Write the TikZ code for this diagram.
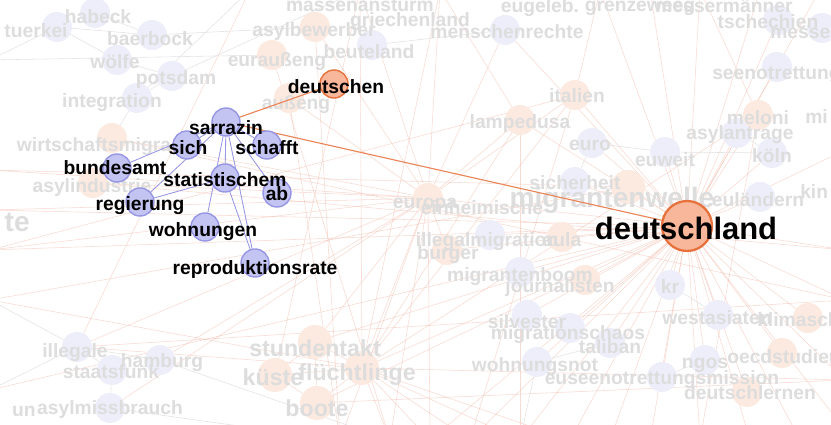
\documentclass[tikz,border=0pt]{standalone}
\usepackage{fontspec}
\setmainfont{Liberation Sans}
\pgfdeclarelayer{edges}
\pgfdeclarelayer{faint}
\pgfdeclarelayer{fainttext}
\pgfdeclarelayer{front}
\pgfdeclarelayer{top}
\pgfsetlayers{edges,faint,fainttext,main,front,top}
\definecolor{hubblue}{RGB}{196,196,242}
\definecolor{hubline}{RGB}{150,150,228}
\definecolor{huborange}{RGB}{248,182,154}
\definecolor{hotline}{RGB}{232,112,58}
\definecolor{fadeblue}{RGB}{238,238,250}
\definecolor{fadeorange}{RGB}{252,234,224}
\definecolor{fadetext}{RGB}{221,221,221}
\definecolor{fadeedge}{RGB}{242,184,166}
\tikzset{
  word/.style={inner sep=0pt, font=\bfseries\fontsize{13.7}{15}\selectfont},
  fadeword/.style={word, text=fadetext},
  bigword/.style={inner sep=0pt, text=fadetext, font=\bfseries\fontsize{16.5}{18}\selectfont},
  hubdot/.style={circle, inner sep=0pt, minimum size=0.7cm, fill=hubblue, draw=hubline, line width=1pt},
  hotdot/.style={hubdot, fill=huborange, draw=hotline},
  fadedot/.style={circle, inner sep=0pt, minimum size=0.75cm},
  bigdot/.style={circle, inner sep=0pt, minimum size=0.85cm, fill=fadeorange},
  fadeline/.style={draw=fadeedge, line width=0.4pt, opacity=0.5},
  greyline/.style={draw=black!11, line width=0.4pt},
  hubedge/.style={draw=hubline, line width=0.6pt},
  hotedge/.style={draw=hotline!85, line width=0.8pt}
}
\begin{document}
\begin{tikzpicture}[x=0.025cm,y=-0.025cm]
  \useasboundingbox (0,0) rectangle (831,425);
  \begin{pgfonlayer}{edges}
    \fill[white] (0,0) rectangle (831,425);
  \end{pgfonlayer}

  \begin{pgfonlayer}{front}
    \foreach \n/\cx/\cy in {sarrazin/226/122, sich/187/145, schafft/267/145, bundesamt/117/168,
      statistischem/225/178, ab/277/193, regierung/140/202, wohnungen/205/227, reproduktionsrate/255/263}
      \node[hubdot] (\n) at (\cx,\cy) {};
    \node[hotdot] (deutschen) at (334,84) {};
    \node[hotdot, minimum size=1.25cm, line width=1.6pt] (deutschland) at (687,226) {};
  \end{pgfonlayer}
  \begin{pgfonlayer}{top}
    \foreach \n/\lx/\ly in {sarrazin/226/128, sich/188/148, schafft/267/148, bundesamt/115/168,
      statistischem/225/180, ab/277/194, regierung/140/206, wohnungen/203/232, reproduktionsrate/255/270}
      \node[word] (\n-t) at (\lx,\ly) {\n};
    \node[word] (deutschen-t) at (336,87) {deutschen};
    \node[word, font=\bfseries\fontsize{22}{24}\selectfont] (deutschland-t) at (686,228) {deutschland};
  \end{pgfonlayer}

  \foreach \n/\cx/\cy/\c/\lx/\ly/\t in {
    tuerkei/57/27/fadeblue/36/31/tuerkei, habeck/95/13/fadeblue/98/17/habeck,
    baerbock/152/35/fadeblue/150/39/baerbock, woelfe/117/60/fadeblue/115/62/wölfe,
    potsdam/172/76/fadeblue/176/80/potsdam, integration/137/98/fadeblue/112/103/integration,
    wirtschaft/112/138/fadeorange/94/147/wirtschaftsmigra, asylindustrie/93/183/fadeorange/92/188/asylindustrie,
    asylbewerber/315/27/fadeorange/314/32/asylbewerber, beuteland/372/45/fadeblue/369/52/beuteland,
    euraussen/272/55/fadeorange/277/62/euraußeng, aussen/289/98/fadeorange/296/105/außeng,
    menschenrechte/505/30/fadeblue/507/32/menschenrechte, italien/575/95/fadeorange/577/96/italien,
    lampedusa/520/120/fadeorange/520/124/lampedusa, euro/592/143/fadeblue/590/145/euro,
    euweit/665/152/fadeblue/665/160/euweit, asylantrage/737/133/fadeblue/740/135/asylantrage,
    meloni/758/115/fadeorange/758/118/meloni, koeln/772/153/fadeblue/772/156/köln,
    tschechien/778/20/fadeblue/768/22/tschechien, sicherheit/575/182/fadeblue/575/183/sicherheit,
    europa/428/198/fadeorange/425/205/europa, eulaendern/760/197/fadeblue/758/200/euländern,
    illegalmigration/490/235/fadeblue/487/242/illegalmigration, burger/447/250/fadeorange/448/255/burger,
    aula/562/237/fadeorange/562/240/aula, migrantenboom/520/272/fadeblue/520/277/migrantenboom,
    journalisten/585/280/fadeorange/560/288/journalisten, kr/670/285/fadeblue/670/287/kr,
    silvester/527/315/fadeblue/527/322/silvester, migrationschaos/570/328/fadeblue/568/335/migrationschaos,
    taliban/610/343/fadeblue/610/347/taliban, wohnungsnot/537/362/fadeblue/535/367/wohnungsnot,
    euseenot/662/377/fadeblue/662/380/euseenotrettungsmission, ngos/705/360/fadeblue/705/365/ngos,
    westasiaten/718/315/fadeblue/717/318/westasiaten, deutschlernen/747/392/fadeorange/750/393/deutschlernen,
    illegale/77/347/fadeblue/75/353/illegale, staatsfunk/112/370/fadeblue/111/372/staatsfunk,
    hamburg/160/360/fadeblue/162/363/hamburg, asylmissbrauch/110/408/fadeblue/110/410/asylmissbrauch}
  {
    \begin{pgfonlayer}{faint}
      \node[fadedot, fill=\c] (\n) at (\cx,\cy) {};
    \end{pgfonlayer}
    \begin{pgfonlayer}{fainttext}
      \node[fadeword] (\n-t) at (\lx,\ly) {\t};
    \end{pgfonlayer}
  }

  \begin{pgfonlayer}{faint}
    \node[fadedot, fill=fadeblue] (seenotrettung) at (777,67) {};
    \node[fadedot, fill=fadeorange] (oecdstudie) at (782,353) {};
    \node[fadedot, fill=fadeorange] (klimaschutz) at (808,318) {};
    \node[fadedot, fill=fadeblue] (messer) at (822,28) {};
    \node[bigdot] (stundentakt) at (315,342) {};
    \node[bigdot] (kueste) at (275,375) {};
    \node[bigdot] (fluechtlinge) at (362,368) {};
    \node[bigdot] (boote) at (317,403) {};
    \node[bigdot] (welle) at (628,187) {};
  \end{pgfonlayer}
  \begin{pgfonlayer}{fainttext}
    \node[fadeword, anchor=west] (seenotrettung-t) at (712,75) {seenotrettung};
    \node[fadeword, anchor=west] (oecdstudie-t) at (727,357) {oecdstudien};
    \node[fadeword, anchor=west] (klimaschutz-t) at (757,320) {klimaschutz};
    \node[fadeword, anchor=west] (messer-t) at (770,33) {messer};
    \node[fadeword, anchor=west] (mi-t) at (805,117) {mi};
    \node[fadeword, anchor=west] (kin-t) at (800,192) {kin};
    \node[fadeword] (massen-t) at (360,5) {massenansturm};
    \node[fadeword] (eugeleb-t) at (540,8) {eugeleb.};
    \node[fadeword] (grenze-t) at (640,8) {grenzeweeg};
    \node[fadeword] (messermaenner-t) at (724,6) {messermänner};
    \node[fadeword] (griechenland-t) at (410,22) {griechenland};
    \node[fadeword] (einheimische-t) at (482,208) {einheimische};
    \node[fadeword, anchor=east] (un-t) at (36,411) {un};
    \node[bigword, anchor=east, font=\bfseries\fontsize{20}{22}\selectfont] (te-t) at (30,222) {te};
    \node[bigword] (stundentakt-t) at (315,348) {stundentakt};
    \node[bigword] (kueste-t) at (273,377) {küste};
    \node[bigword] (fluechtlinge-t) at (357,375) {flüchtlinge};
    \node[bigword] (boote-t) at (317,408) {boote};
    \node[bigword, font=\bfseries\fontsize{20}{22}\selectfont] (welle-t) at (612,200) {migrantenwelle};
  \end{pgfonlayer}

  \foreach \n/\x/\y in {s1/340/440, s2/390/440, s3/430/440, s4/470/440, s5/520/440, s6/570/440,
    s7/610/440, s8/650/440, s9/700/440, s10/750/440, s11/800/440, s12/845/430, r1/845/380,
    r2/845/300, r3/845/250, r4/845/150, n1/600/-10, n2/650/-10, n3/700/-10, n4/760/-10,
    n5/820/-10, n6/440/-10, n7/360/-10, n8/250/-10, w1/-10/170, w2/-10/210, w3/-10/250,
    w4/-10/300, w5/-10/390, w6/-10/60}
    \coordinate (\n) at (\x,\y);

  \begin{pgfonlayer}{edges}
    \foreach \b in {europa, sicherheit, aula, kr, westasiaten, klimaschutz, ngos, oecdstudie, euseenot,
      deutschlernen, fluechtlinge, boote, stundentakt, migrationschaos, taliban, wohnungsnot, silvester,
      migrantenboom, euweit, koeln, meloni, asylantrage, seenotrettung, italien, lampedusa, euro,
      tschechien, menschenrechte, eulaendern, illegalmigration, burger, journalisten, welle, w2, w3,
      s3, s4, s5, s6, s7, s8, s9, s10, s11, s12, r1, r2, r3, r4, n1, n2, n3, n4, n5}
      \draw[fadeline] (deutschland) -- (\b);
    \foreach \b in {lampedusa, italien, burger, illegale, asylindustrie, stundentakt, fluechtlinge,
      asylbewerber, aussen, wirtschaft, menschenrechte, s1, s2, s3, w1, w2, w3, n6, n7}
      \draw[fadeline] (europa) -- (\b);
    \foreach \b in {s2, s3, s4, s5, s6, italien, lampedusa, kueste, boote, stundentakt, meloni,
      n6, n7, r1, illegale, w4}
      \draw[fadeline] (fluechtlinge) -- (\b);
    \draw[fadeline] (stundentakt) -- (kueste) -- (boote);
    \draw[fadeline] (stundentakt) -- (boote);
    \foreach \a/\b in {lampedusa/n6, italien/n1, italien/s4, lampedusa/s5, meloni/s9, meloni/n3,
      asylbewerber/s1, euraussen/s2, aussen/s1, wirtschaft/r2, asylindustrie/r3, illegale/r2,
      illegale/n8, w5/deutschland, w4/welle, w1/welle, asylmissbrauch/europa, hamburg/europa,
      boote/r1, kueste/n7, w3/italien}
      \draw[fadeline] (\a) -- (\b);
    \foreach \a/\b in {habeck/baerbock, tuerkei/baerbock, tuerkei/woelfe, woelfe/potsdam,
      potsdam/integration, integration/wirtschaft, baerbock/asylbewerber, illegale/hamburg,
      illegale/staatsfunk, staatsfunk/asylmissbrauch, hamburg/s2, illegale/w5, illegale/w4,
      asylmissbrauch/s1, beuteland/menschenrechte, euro/euweit, euweit/koeln, koeln/asylantrage,
      kr/westasiaten, ngos/euseenot, silvester/migrationschaos, taliban/wohnungsnot,
      integration/n8, potsdam/n7, w6/euraussen, tuerkei/w6, wohnungsnot/s5, sicherheit/euro}
      \draw[greyline] (\a) -- (\b);
  \end{pgfonlayer}

  \foreach \b in {sich, schafft, statistischem, ab, wohnungen, reproduktionsrate, bundesamt, regierung}
    \draw[hubedge] (sarrazin) -- (\b);
  \draw[hubedge] (statistischem) -- (reproduktionsrate);
  \draw[hubedge] (statistischem) -- (regierung);
  \draw[hotedge] (sarrazin) -- (deutschen);
  \draw[hotedge] (sarrazin) -- (deutschland);
\end{tikzpicture}
\end{document}
